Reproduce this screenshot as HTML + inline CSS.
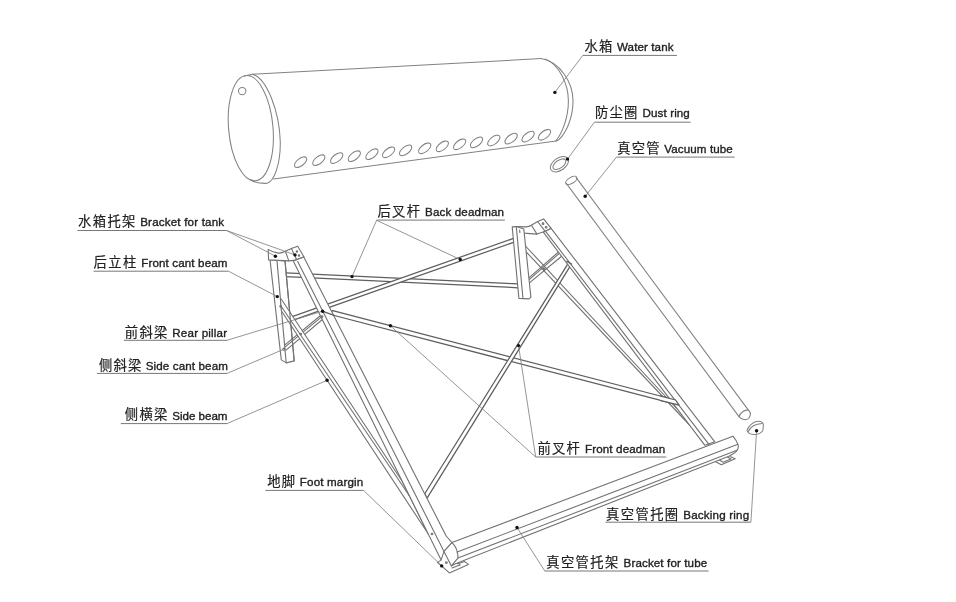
<!DOCTYPE html>
<html lang="zh">
<head>
<meta charset="utf-8">
<title>Solar water heater structure</title>
<style>
html,body{margin:0;padding:0;background:#fff;}
body{width:956px;height:602px;overflow:hidden;}
svg{display:block;filter:blur(0.35px);}
.f{stroke:#727272;stroke-width:1.1;fill:none;stroke-linecap:round;stroke-linejoin:round;}
.fw{stroke:#727272;stroke-width:1.1;fill:#fff;stroke-linejoin:round;}
.fb{stroke:#5e5e5e;stroke-width:1.25;fill:none;stroke-linecap:round;}
.fwb{stroke:#5e5e5e;stroke-width:1.25;fill:#fff;stroke-linejoin:round;}
.t{stroke:#828282;stroke-width:1.05;fill:none;stroke-linecap:round;}
.ld{stroke:#828282;stroke-width:0.85;fill:none;}
.ul{stroke:#777;stroke-width:1.0;fill:none;}
.dot{fill:#111;stroke:none;}
.cn{font-family:"Liberation Sans","Noto Sans CJK SC",sans-serif;font-size:13.3px;font-weight:400;fill:#222;stroke:#222;stroke-width:0.18;}
.en{font-family:"Liberation Sans","Noto Sans CJK SC",sans-serif;font-size:11.6px;fill:#222;stroke:#222;stroke-width:0.35;}
</style>
</head>
<body>
<svg width="956" height="602" viewBox="0 0 956 602">
<rect x="0" y="0" width="956" height="602" fill="#fff"/>
<line class="t" x1="252.4" y1="74.2" x2="541.1" y2="58.6"/>
<line class="t" x1="273.5" y1="179.0" x2="556.2" y2="141.0"/>
<ellipse class="t" cx="250.8" cy="128.2" rx="22.2" ry="52.8" transform="rotate(-5 250.8 128.2)"/>
<path class="t" d="M252.4,74.2 C267,78 279.5,112 280.3,142 C280.5,165 274,181 267.3,183.3 Q257,184 250,179.8"/>
<path class="t" d="M244.6,76.1 L252.4,74.2"/>
<circle class="t" cx="242.2" cy="91.1" r="3.7"/>
<path class="t" d="M541.1,58.6 C560,62 573,82 573,101 C573,118 566,133 558.9,139.7 L556.2,141"/>
<path class="t" d="M545,59.1 C559,64 568.4,84 568.4,101 C568.4,118 562,133 556.2,140.5"/>
<ellipse class="t" cx="300.6" cy="162.2" rx="7.3" ry="3.6" transform="rotate(-38 300.6 162.2)"/>
<ellipse class="t" cx="318.8" cy="160.2" rx="7.3" ry="3.6" transform="rotate(-38 318.8 160.2)"/>
<ellipse class="t" cx="336.7" cy="158.1" rx="7.3" ry="3.6" transform="rotate(-38 336.7 158.1)"/>
<ellipse class="t" cx="354.3" cy="156.2" rx="7.3" ry="3.6" transform="rotate(-38 354.3 156.2)"/>
<ellipse class="t" cx="371.9" cy="154.2" rx="7.3" ry="3.6" transform="rotate(-38 371.9 154.2)"/>
<ellipse class="t" cx="388.6" cy="152.3" rx="7.3" ry="3.6" transform="rotate(-38 388.6 152.3)"/>
<ellipse class="t" cx="405.6" cy="150.4" rx="7.3" ry="3.6" transform="rotate(-38 405.6 150.4)"/>
<ellipse class="t" cx="424.7" cy="148.3" rx="7.3" ry="3.6" transform="rotate(-38 424.7 148.3)"/>
<ellipse class="t" cx="442.3" cy="146.3" rx="7.3" ry="3.6" transform="rotate(-38 442.3 146.3)"/>
<ellipse class="t" cx="459.6" cy="144.3" rx="7.3" ry="3.6" transform="rotate(-38 459.6 144.3)"/>
<ellipse class="t" cx="476.5" cy="142.4" rx="7.3" ry="3.6" transform="rotate(-38 476.5 142.4)"/>
<ellipse class="t" cx="493.8" cy="140.5" rx="7.3" ry="3.6" transform="rotate(-38 493.8 140.5)"/>
<ellipse class="t" cx="511.1" cy="138.6" rx="7.3" ry="3.6" transform="rotate(-38 511.1 138.6)"/>
<ellipse class="t" cx="528.1" cy="136.6" rx="7.3" ry="3.6" transform="rotate(-38 528.1 136.6)"/>
<ellipse class="t" cx="544.5" cy="134.8" rx="7.3" ry="3.6" transform="rotate(-38 544.5 134.8)"/>
<ellipse class="t" cx="559.4" cy="164.2" rx="10.2" ry="6.2" transform="rotate(-35 559.4 164.2)"/>
<ellipse class="t" cx="559.4" cy="164.2" rx="7.4" ry="3.9" transform="rotate(-35 559.4 164.2)"/>
<line class="t" x1="566.3" y1="183.4" x2="739.0" y2="416.6"/>
<line class="t" x1="576.2" y1="177.6" x2="748.2" y2="409.9"/>
<ellipse class="t" cx="571.3" cy="180.4" rx="6.3" ry="3.0" transform="rotate(-31 571.3 180.4)"/>
<path class="t" d="M739,416.6 C741.5,419.8 746,420.4 748.6,418.6 C751,415.4 750.6,412 748.2,409.9"/>
<path class="t" d="M739,416.6 C740.2,412.8 744.5,409.8 748.2,409.9"/>
<path class="t" d="M747,430.3 C748.5,425.5 753.5,421.5 758.2,421.2 C761.5,421 763.6,423 763.4,425.5 L762.8,430.7 C761,433 757,434.7 753.5,434.5 C750.5,434.2 747.8,432.8 747,430.3 Z"/>
<path class="t" d="M748.3,431.5 C750,427.5 755,424 762.4,423.6"/>
<line class="fb" x1="286.0" y1="272.8" x2="518.0" y2="283.9"/>
<line class="fb" x1="286.0" y1="276.7" x2="518.4" y2="287.8"/>
<path class="fwb" d="M291.5,316.8 L513.6,238.3 L514.2,242.1 L291.0,320.8 Z"/>
<path class="fw" d="M525.0,245.5 L686.0,418.5 L690.0,425.5 L522.5,248.0 Z"/>
<path class="fwb" d="M332.7,310.6 L675.6,400.0 L679.0,405.2 L328.5,314.0 Z"/>
<path class="fwb" d="M568.8,262.4 L571.3,264.4 L426.9,498.4 L424.9,493.5 Z"/>
<line class="f" x1="528.9" y1="277.9" x2="557.9" y2="252.5"/>
<line class="f" x1="529.1" y1="279.6" x2="558.8" y2="253.9"/>
<line class="f" x1="529.4" y1="282.9" x2="561.9" y2="256.0"/>
<circle class="f" cx="544.1" cy="268.9" r="0.9"/>
<path class="fw" d="M270.0,259.6 L285.0,260.9 L294.2,360.9 L286.4,362.9 L281.3,359.9 Z"/>
<line class="f" x1="277.0" y1="260.9" x2="286.2" y2="362.9"/>
<line class="f" x1="284.9" y1="344.9" x2="320.0" y2="316.0"/>
<line class="f" x1="285.5" y1="346.6" x2="321.0" y2="317.4"/>
<line class="f" x1="286.4" y1="349.9" x2="323.0" y2="319.0"/>
<circle class="f" cx="283.9" cy="349.2" r="1.1"/>
<path class="fw" d="M281.5,311.0 L280.4,299.0 L281.2,299.0 L402.0,481.0 L428.3,534.0 Z"/>
<line class="f" x1="281.2" y1="306.2" x2="409.5" y2="496.0"/>
<line class="f" x1="285.0" y1="260.9" x2="294.2" y2="360.9"/>
<circle class="f" cx="300.7" cy="334.0" r="0.8"/>
<circle class="f" cx="280.5" cy="306.3" r="0.7"/>
<path class="fw" d="M516.3,226.6 L526.3,226.9 Q529,226.7 531.4,225.3 L537.6,221.5 L543.6,218.9 L551.1,228.4 L545.2,231.3 L537,234.1 L523.8,233.1 Z"/>
<line class="f" x1="531.4" y1="225.3" x2="537.0" y2="234.1"/>
<line class="f" x1="537.6" y1="221.5" x2="545.2" y2="231.3"/>
<circle class="f" cx="543.0" cy="223.7" r="0.8"/>
<circle class="f" cx="546.1" cy="227.3" r="0.8"/>
<path class="fw" d="M512.2,226.9 L516.3,226.6 L523.8,229.1 L530.9,297.4 L528.9,298.9 L518.9,298.4 Z"/>
<line class="f" x1="516.3" y1="226.6" x2="522.9" y2="297.9"/>
<line class="f" x1="519.6" y1="230.0" x2="519.9" y2="232.6"/>
<path class="fw" d="M293.3,260.9 L303.8,256.9 L446.2,536.0 L452.0,542.6 L444.0,551.4 L441.1,559.9 Z"/>
<line class="f" x1="297.7" y1="261.6" x2="444.0" y2="551.4"/>
<circle class="f" cx="322.1" cy="316.7" r="0.8"/>
<line class="fb" x1="322.9" y1="311.4" x2="334.0" y2="315.4"/>
<circle class="f" cx="432.0" cy="534.0" r="0.8"/>
<path class="fw" d="M543.3,232.2 L551.1,228.4 L714.8,441.8 L704.9,445.3 Z"/>
<line class="f" x1="545.8" y1="231.6" x2="708.9" y2="444.3"/>
<line class="fb" x1="566.9" y1="261.4" x2="571.6" y2="264.0"/>
<path class="fwb" d="M660,395.9 L675.6,400 L679,405.2 L660,400.3"/>
<path class="fw" d="M268.1,249.4 Q273,252.6 278.3,253.1 Q282,253.2 285.4,251.2 L291.4,248.4 L297.7,246.2 L303.9,256.7 L293.5,260.4 L288.8,260.9 L268.6,259.9 Z"/>
<line class="f" x1="285.4" y1="251.2" x2="288.8" y2="260.9"/>
<line class="f" x1="291.4" y1="248.4" x2="296.6" y2="259.6"/>
<circle class="f" cx="296.9" cy="251.4" r="0.7"/>
<circle class="f" cx="299.0" cy="255.6" r="0.7"/>
<path class="fw" d="M441.5,559.9 L437.5,562.4 L449.4,572.9 L468.4,564.4 L464.4,561.4 L457,564"/>
<line class="f" x1="451.9" y1="567.9" x2="459.9" y2="564.9"/>
<line class="f" x1="459.9" y1="564.9" x2="459.4" y2="563.9"/>
<circle class="f" cx="446.4" cy="562.7" r="0.8"/>
<path class="fw" d="M714.9,461.2 L721.3,464.7 L735.2,458.8 L730,456.5"/>
<path class="f" d="M719.0,459.8 L723.2,462.2 L731.0,458.9 L727.5,457.0"/>
<path class="fw" d="M452,542.6 L732.9,436.2 Q737,441 738.1,444.9 Q738.6,447.5 737.6,449.6 Q736,453 728.8,456.3 L454.9,563.9 L451.4,565.9 L444.0,551.4 Z"/>
<line class="f" x1="457.2" y1="552.0" x2="737.9" y2="444.3"/>
<line class="f" x1="457.9" y1="558.1" x2="737.0" y2="450.3"/>
<path class="f" d="M452,542.6 Q456.5,547 457.2,552.0 Q458.3,555.5 457.9,558.1 L451.4,565.9"/>
<text class="cn" x="584.4" y="51.15" textLength="27.9" lengthAdjust="spacing">水箱</text>
<text class="en" x="617.0" y="51.4" textLength="56.5" lengthAdjust="spacing">Water tank</text>
<line class="ul" x1="582.8" y1="55.4" x2="677.0" y2="55.4"/>
<line class="ld" x1="582.8" y1="55.4" x2="554.9" y2="92.4"/>
<circle class="dot" cx="554.9" cy="92.4" r="1.7"/>
<text class="cn" x="595.1" y="116.95" textLength="42.3" lengthAdjust="spacing">防尘圈</text>
<text class="en" x="642.6" y="117.2" textLength="47.2" lengthAdjust="spacing">Dust ring</text>
<line class="ul" x1="594.4" y1="122.2" x2="690.5" y2="122.2"/>
<line class="ld" x1="594.4" y1="122.2" x2="567.5" y2="159.1"/>
<circle class="dot" cx="567.5" cy="159.1" r="1.7"/>
<text class="cn" x="617.2" y="152.55" textLength="42.3" lengthAdjust="spacing">真空管</text>
<text class="en" x="664.2" y="152.8" textLength="68.6" lengthAdjust="spacing">Vacuum tube</text>
<line class="ul" x1="616.5" y1="157.1" x2="734.7" y2="157.1"/>
<line class="ld" x1="616.5" y1="157.1" x2="585.2" y2="196.3"/>
<circle class="dot" cx="585.2" cy="196.3" r="1.7"/>
<text class="cn" x="78.0" y="226.05" textLength="57.4" lengthAdjust="spacing">水箱托架</text>
<text class="en" x="140.2" y="226.3" textLength="83.9" lengthAdjust="spacing">Bracket for tank</text>
<line class="ul" x1="77.6" y1="230.5" x2="226.5" y2="230.5"/>
<line class="ld" x1="226.5" y1="230.5" x2="275.4" y2="256.2"/>
<circle class="dot" cx="275.4" cy="256.2" r="1.7"/>
<line class="ld" x1="226.5" y1="230.5" x2="295.1" y2="254.9"/>
<circle class="dot" cx="295.0" cy="254.9" r="1.7"/>
<text class="cn" x="93.5" y="266.55" textLength="42.7" lengthAdjust="spacing">后立柱</text>
<text class="en" x="141.2" y="266.8" textLength="86.3" lengthAdjust="spacing">Front cant beam</text>
<line class="ul" x1="93.5" y1="271.2" x2="228.5" y2="271.2"/>
<line class="ld" x1="228.5" y1="271.2" x2="277.3" y2="296.6"/>
<circle class="dot" cx="277.3" cy="296.6" r="1.7"/>
<text class="cn" x="124.8" y="336.65" textLength="42.5" lengthAdjust="spacing">前斜梁</text>
<text class="en" x="172.3" y="336.9" textLength="54.8" lengthAdjust="spacing">Rear pillar</text>
<line class="ul" x1="123.8" y1="340.3" x2="227.0" y2="340.3"/>
<line class="ld" x1="227.0" y1="340.3" x2="322.6" y2="311.2"/>
<circle class="dot" cx="322.6" cy="311.2" r="1.7"/>
<text class="cn" x="98.9" y="369.55" textLength="42.3" lengthAdjust="spacing">侧斜梁</text>
<text class="en" x="145.7" y="369.8" textLength="82.2" lengthAdjust="spacing">Side cant beam</text>
<line class="ul" x1="96.9" y1="373.4" x2="227.0" y2="373.4"/>
<line class="ld" x1="227.0" y1="373.4" x2="283.2" y2="349.5"/>
<text class="cn" x="124.8" y="419.35" textLength="42.5" lengthAdjust="spacing">侧横梁</text>
<text class="en" x="172.3" y="419.6" textLength="55.2" lengthAdjust="spacing">Side beam</text>
<line class="ul" x1="120.8" y1="423.6" x2="227.0" y2="423.6"/>
<line class="ld" x1="227.0" y1="423.6" x2="327.1" y2="380.3"/>
<circle class="dot" cx="327.1" cy="380.3" r="1.7"/>
<text class="cn" x="377.5" y="215.95" textLength="42.5" lengthAdjust="spacing">后叉杆</text>
<text class="en" x="425.0" y="216.2" textLength="79.0" lengthAdjust="spacing">Back deadman</text>
<line class="ul" x1="376.6" y1="220.1" x2="504.8" y2="220.1"/>
<line class="ld" x1="376.6" y1="220.3" x2="352.0" y2="276.6"/>
<circle class="dot" cx="352.0" cy="276.6" r="1.7"/>
<line class="ld" x1="376.6" y1="220.3" x2="460.2" y2="259.5"/>
<circle class="dot" cx="460.2" cy="259.5" r="1.7"/>
<text class="cn" x="537.5" y="453.05" textLength="42.4" lengthAdjust="spacing">前叉杆</text>
<text class="en" x="585.0" y="453.3" textLength="80.2" lengthAdjust="spacing">Front deadman</text>
<line class="ul" x1="535.7" y1="457.0" x2="666.2" y2="457.0"/>
<line class="ld" x1="535.7" y1="457.0" x2="390.4" y2="325.8"/>
<circle class="dot" cx="390.4" cy="325.8" r="1.7"/>
<line class="ld" x1="535.7" y1="457.0" x2="518.5" y2="345.6"/>
<circle class="dot" cx="518.5" cy="345.6" r="1.7"/>
<text class="cn" x="267.2" y="485.55" textLength="27.9" lengthAdjust="spacing">地脚</text>
<text class="en" x="299.8" y="485.8" textLength="63.4" lengthAdjust="spacing">Foot margin</text>
<line class="ul" x1="265.4" y1="490.4" x2="363.6" y2="490.4"/>
<line class="ld" x1="363.6" y1="490.4" x2="441.7" y2="565.9"/>
<circle class="dot" cx="441.7" cy="565.9" r="1.7"/>
<text class="cn" x="606.1" y="518.55" textLength="72.0" lengthAdjust="spacing">真空管托圈</text>
<text class="en" x="683.2" y="518.8" textLength="66.0" lengthAdjust="spacing">Backing ring</text>
<line class="ul" x1="605.5" y1="522.2" x2="750.9" y2="522.2"/>
<line class="ld" x1="750.9" y1="522.2" x2="756.6" y2="430.7"/>
<circle class="dot" cx="756.6" cy="430.7" r="1.7"/>
<text class="cn" x="546.3" y="567.15" textLength="71.9" lengthAdjust="spacing">真空管托架</text>
<text class="en" x="623.6" y="567.4" textLength="83.6" lengthAdjust="spacing">Bracket for tube</text>
<line class="ul" x1="544.8" y1="571.0" x2="708.6" y2="571.0"/>
<line class="ld" x1="544.8" y1="571.0" x2="517.0" y2="527.5"/>
<circle class="dot" cx="517.0" cy="527.5" r="1.7"/>
</svg>
</body>
</html>
